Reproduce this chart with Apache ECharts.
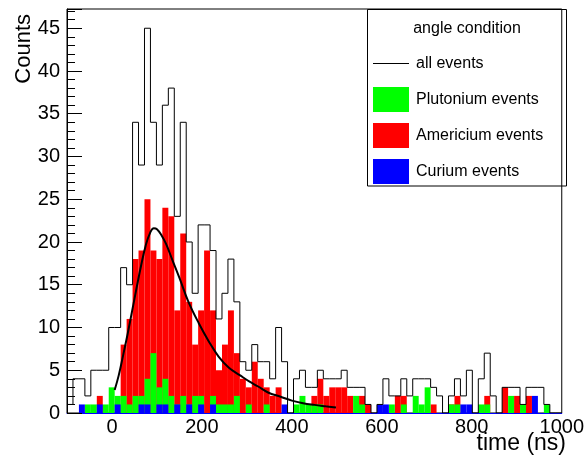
<!DOCTYPE html>
<html><head><meta charset="utf-8">
<script src="https://cdn.jsdelivr.net/npm/echarts@6/dist/echarts.min.js"></script>
<style>html,body{margin:0;padding:0;background:#fff}#c{width:587px;height:459px}</style>
</head><body><div id="c"></div><script>
// ---- data ----
const X_MIN = -100, X_MAX = 1000, N_BINS = 83;
const xTickLabels = [0, 200, 400, 600, 800, 1000];
const yTickLabels = [0, 5, 10, 15, 20, 25, 30, 35, 40, 45];
const allEvents = [
  1, 4, 4, 2, 5, 5, 5, 10, 10, 17,
  15, 34, 29, 45, 34, 29, 36, 38, 23, 34,
  20, 14, 22, 22, 19, 11, 14, 18, 13, 6,
  5, 8, 6, 6, 4, 10, 6, 0, 4, 5,
  3, 3, 5, 4, 4, 4, 5, 3, 3, 3,
  1, 0, 1, 4, 2, 2, 4, 2, 4, 4,
  4, 3, 2, 0, 2, 4, 2, 5, 0, 4,
  7, 2, 0, 3, 3, 3, 1, 3, 3, 3,
  1, 0, 0];
const plutonium = [
  0, 0, 0, 1, 1, 0, 1, 3, 2, 2,
  1, 2, 2, 4, 7, 3, 4, 2, 1, 2,
  1, 2, 2, 0, 2, 1, 1, 1, 2, 0,
  1, 0, 0, 1, 0, 0, 0, 0, 1, 2,
  1, 1, 1, 0, 0, 0, 0, 0, 2, 1,
  0, 0, 0, 0, 1, 0, 1, 0, 2, 1,
  3, 0, 0, 0, 1, 1, 0, 0, 0, 1,
  1, 0, 0, 0, 2, 0, 1, 0, 0, 0,
  1, 0, 0];
const americium = [
  0, 0, 0, 0, 0, 2, 0, 0, 0, 8,
  11, 18, 19, 25, 19, 18, 24, 23, 12, 21,
  13, 8, 12, 19, 12, 5, 8, 12, 7, 4,
  3, 6, 4, 3, 2, 3, 0, 0, 0, 0,
  0, 2, 4, 2, 3, 3, 3, 2, 0, 2,
  1, 0, 0, 0, 0, 2, 2, 0, 0, 0,
  0, 1, 0, 0, 1, 2, 0, 0, 0, 0,
  2, 0, 0, 3, 0, 2, 0, 2, 0, 0,
  0, 0, 0];
const curium = [
  0, 0, 1, 0, 0, 1, 0, 0, 1, 0,
  0, 0, 1, 1, 0, 1, 1, 0, 1, 0,
  1, 0, 1, 0, 1, 0, 0, 0, 0, 0,
  0, 0, 0, 0, 0, 0, 1, 0, 0, 0,
  0, 0, 0, 0, 0, 0, 0, 0, 0, 0,
  0, 0, 1, 1, 0, 0, 0, 0, 0, 0,
  0, 0, 0, 0, 0, 0, 1, 1, 0, 0,
  0, 0, 0, 0, 0, 0, 0, 0, 2, 0,
  0, 0, 0];
const fitTime = [6, 15, 25, 35, 45, 55, 65, 75, 85, 93, 100, 110, 120, 135, 150, 170, 193, 215, 237, 260, 285, 305, 325, 347, 375, 400, 425, 450, 475, 498];
const fitCounts = [2.7, 4.4, 6.8, 9.3, 12.0, 14.7, 17.3, 19.6, 21.1, 21.6, 21.5, 20.8, 19.8, 17.8, 15.8, 13.0, 10.5, 8.4, 6.6, 5.3, 4.4, 3.7, 3.1, 2.4, 1.9, 1.45, 1.15, 0.95, 0.78, 0.63];

// ---- build ----
const binW = (X_MAX - X_MIN) / N_BINS;
const binNames = allEvents.map((_, i) => String(i));
const stepData = allEvents.map((v, i) => [X_MIN + i * binW, v]);
stepData.push([X_MAX, allEvents[N_BINS - 1]]);
const fitData = fitTime.map((t, i) => [t, fitCounts[i]]);

const FONT = 'Liberation Sans, Arial, Helvetica, sans-serif';
const chart = echarts.init(document.getElementById('c'), null, {renderer: 'canvas'});
const barCommon = {type: 'bar', xAxisIndex: 1, yAxisIndex: 0, barWidth: '100%', barGap: '-100%', barCategoryGap: '0%', animation: false};
chart.setOption({
  animation: false,
  backgroundColor: '#fff',
  grid: {left: 67, right: 21, top: 9, bottom: 46, show: true, borderColor: '#000', borderWidth: 1, backgroundColor: 'transparent'},
  xAxis: [
    {type: 'value', min: X_MIN, max: X_MAX, position: 'bottom',
     axisLine: {show: true, onZero: false, lineStyle: {color: '#0000ff', width: 1}},
     axisTick: {show: false},
     splitLine: {show: false},
     axisLabel: {customValues: xTickLabels, formatter: v => String(v), fontSize: 20, color: '#000', fontFamily: FONT, margin: 4}},
    {type: 'category', data: binNames, position: 'top', show: false, boundaryGap: true}
  ],
  yAxis: [
    {type: 'value', min: 0, max: 47.25, interval: 5, position: 'left', offset: 0,
     axisLine: {show: true, onZero: false, lineStyle: {color: '#000'}},
     axisTick: {show: true, inside: true, length: 15, lineStyle: {color: '#000'}},
     splitLine: {show: false},
     axisLabel: {customValues: yTickLabels, formatter: v => String(v), fontSize: 20, color: '#000', fontFamily: FONT, margin: 7}},
    {type: 'value', min: 0, max: 47.25, interval: 1, position: 'left', offset: 0,
     axisLine: {show: false, onZero: false},
     axisTick: {show: true, inside: true, length: 8, lineStyle: {color: '#000'}},
     splitLine: {show: false},
     axisLabel: {show: false}}
  ],
  legend: {
    orient: 'vertical', left: 373, top: 51, itemWidth: 36, itemHeight: 25, itemGap: 11,
    selectedMode: false, padding: 0,
    textStyle: {fontSize: 16, color: '#000', fontFamily: FONT, padding: [0, 0, 0, 2]},
    data: [
      {name: 'all events', icon: 'path://M0,0 M0,12 L36,12 L36,13 L0,13 Z M36,25', itemStyle: {color: '#000'}},
      {name: 'Plutonium events', icon: 'rect'},
      {name: 'Americium events', icon: 'rect'},
      {name: 'Curium events', icon: 'rect'}
    ]
  },
  graphic: [
    {type: 'rect', shape: {x: 367.5, y: 9.5, width: 199, height: 176.5}, style: {fill: 'none', stroke: '#000', lineWidth: 1}, z: 10},
    {type: 'text', x: 467, y: 29, style: {text: 'angle condition', font: '16px ' + FONT, fill: '#000', textAlign: 'center', textVerticalAlign: 'middle'}, z: 10},
    {type: 'text', x: 24, y: 14, rotation: Math.PI / 2, style: {text: 'Counts', font: '22px ' + FONT, fill: '#000', textAlign: 'right', textVerticalAlign: 'middle'}, z: 10},
    {type: 'text', x: 566, y: 444, style: {text: 'time (ns)', font: '23px ' + FONT, fill: '#000', textAlign: 'right', textVerticalAlign: 'middle'}, z: 10}
  ],
  series: [
    Object.assign({name: 'Americium events', data: americium, itemStyle: {color: '#ff0000'}, z: 2}, barCommon),
    Object.assign({name: 'Plutonium events', data: plutonium, itemStyle: {color: '#00ff00'}, z: 3}, barCommon),
    Object.assign({name: 'Curium events', data: curium, itemStyle: {color: '#0000ff'}, z: 4}, barCommon),
    {name: 'all events', type: 'line', xAxisIndex: 0, yAxisIndex: 0, data: stepData, step: 'end', symbol: 'none', showSymbol: false,
     lineStyle: {color: '#000', width: 1}, itemStyle: {color: '#000'}, z: 5, animation: false},
    {name: 'fit', type: 'line', xAxisIndex: 0, yAxisIndex: 0, data: fitData, smooth: 0.4, symbol: 'none', showSymbol: false,
     lineStyle: {color: '#000', width: 2}, z: 6, animation: false}
  ]
});
</script></body></html>
